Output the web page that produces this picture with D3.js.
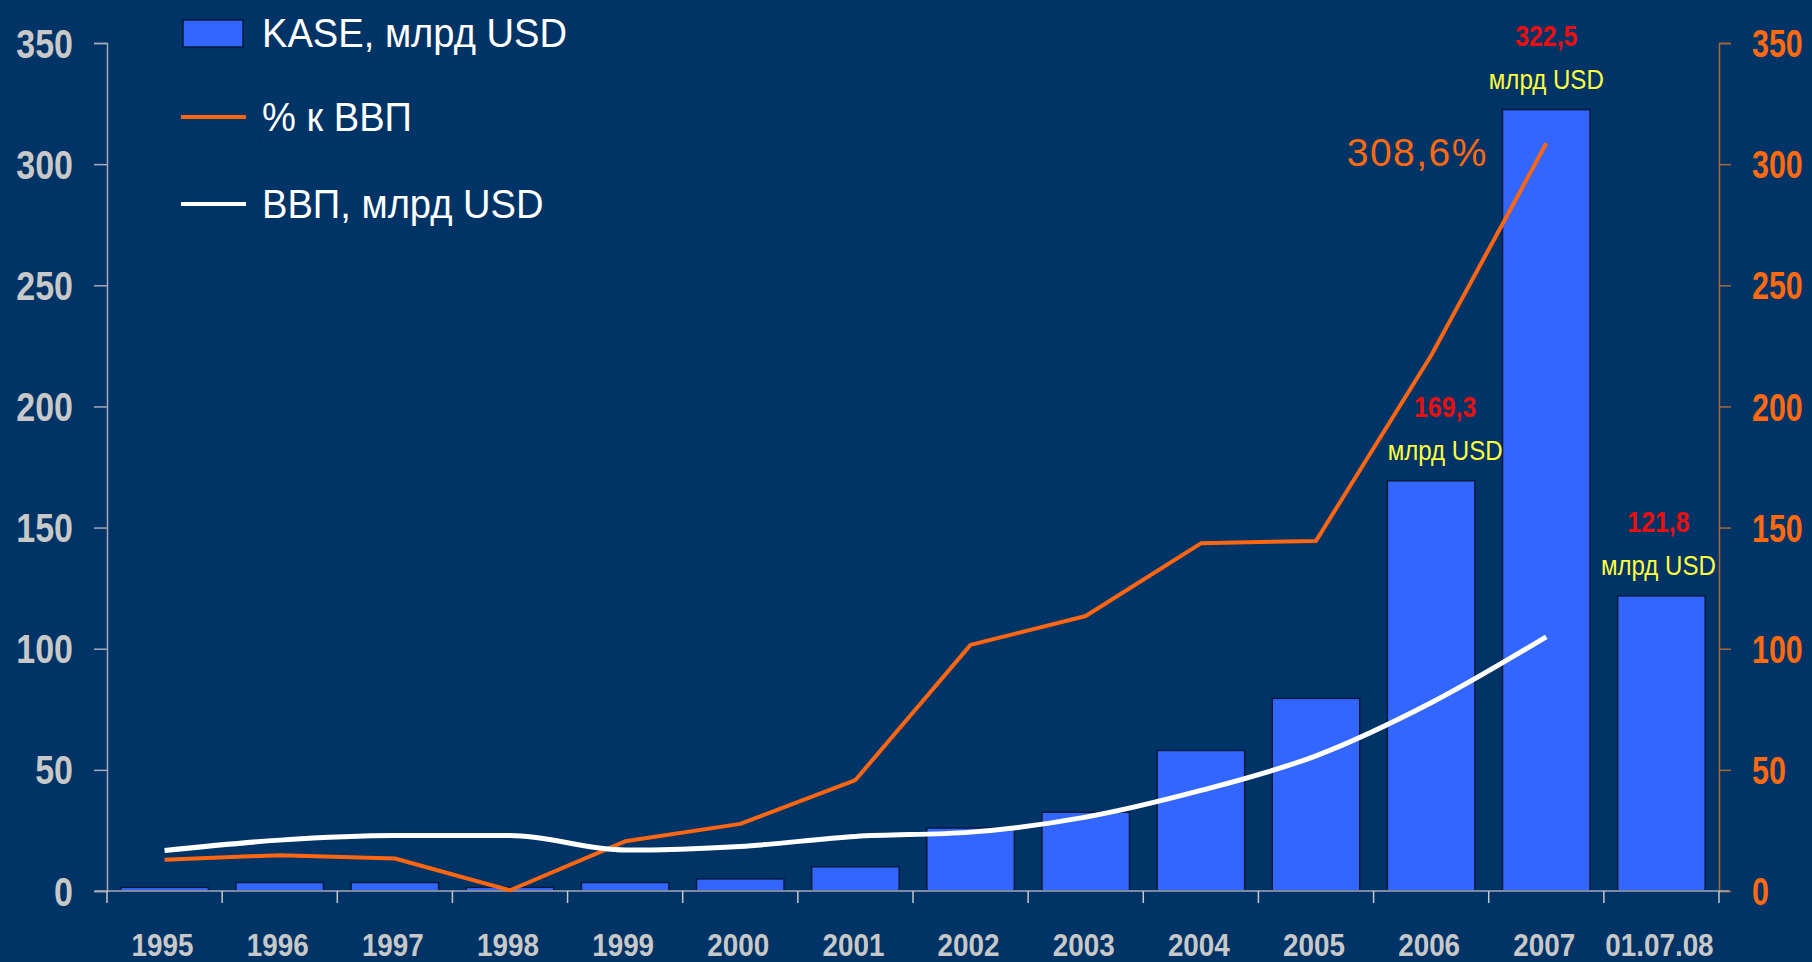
<!DOCTYPE html>
<html><head><meta charset="utf-8">
<script src="https://cdn.jsdelivr.net/npm/d3@7"></script>
<style>
html,body{margin:0;padding:0;background:#003366;}
svg{display:block;}
</style></head>
<body>
<svg id="chart" width="1812" height="962"></svg>
<script>
const categories = ["1995","1996","1997","1998","1999","2000","2001","2002","2003","2004","2005","2006","2007","01.07.08"];
const kase = [1.5,3.5,3.5,1.5,3.5,5,10,26,32.5,58,79.5,169.3,322.5,121.8];
const lineYears = ["1995","1996","1997","1998","1999","2000","2001","2002","2003","2004","2005","2006","2007"];
const pctGdp = [12.9,14.8,13.4,0.3,20.5,27.7,45.8,101.6,113.5,143.5,144.5,221,308.6];
const gdp = [16.7,21,22.9,22.9,16.9,18.4,22.5,24.3,30.5,41.5,55.8,77.7,104.9];
const yTicks = [0,50,100,150,200,250,300,350];
const annCats = ["2006","2007","01.07.08"];
const annValues = ["169,3","322,5","121,8"];
const annUnit = "млрд USD";
const pctLabel = "308,6%";
const legendLabels = ["KASE, млрд USD","% к ВВП","ВВП, млрд USD"];

(function(){
const font = "'Liberation Sans',Arial,sans-serif";
const svg = d3.select("#chart");
const W = 1812, H = 962;
const mLeft = 107, mRight = 1719, mTop = 43, mBottom = 891;

// horizontally condense text around its anchor point (narrow font look)
function condense(sel, f){
  sel.each(function(){
    const xv = parseFloat(this.getAttribute("x") || 0);
    this.setAttribute("x", 0);
    this.setAttribute("transform", `translate(${xv},0) scale(${f},1)`);
  });
}

svg.append("rect").attr("width",W).attr("height",H).attr("fill","#003366");

const x = d3.scaleBand().domain(categories).range([mLeft,mRight]).paddingInner(0.24).paddingOuter(0.12);
const xb = d3.scaleBand().domain(categories).range([mLeft,mRight]).padding(0);
const y = d3.scaleLinear().domain([0,350]).range([mBottom,mTop]);
const cx = d=>xb(d)+xb.bandwidth()/2;

// bars
svg.append("g").selectAll("rect").data(categories).join("rect")
  .attr("x",d=>x(d)).attr("width",x.bandwidth())
  .attr("y",(d,i)=>y(kase[i])).attr("height",(d,i)=>y(0)-y(kase[i]))
  .attr("fill","#3366ff").attr("stroke","#0a1a3a").attr("stroke-width",1.5);

// left axis
const gl = svg.append("g").attr("transform",`translate(${mLeft},0)`)
  .call(d3.axisLeft(y).tickValues(yTicks).tickSize(13).tickPadding(21).tickFormat(d3.format("d")));
gl.select(".domain").attr("stroke","#a8a8b8").attr("stroke-width",1.5);
gl.selectAll(".tick line").attr("stroke","#a8a8b8").attr("stroke-width",1.5);
gl.selectAll("text").attr("fill","#c8c8c8").attr("font-family",font).attr("font-size",40).attr("font-weight","bold").attr("dy","0.35em");
condense(gl.selectAll("text"),0.85);

// right axis
const gr = svg.append("g").attr("transform",`translate(${mRight},0)`)
  .call(d3.axisRight(y).tickValues(yTicks).tickSize(12).tickPadding(21).tickFormat(d3.format("d")));
gr.select(".domain").attr("stroke","#a86a3a").attr("stroke-width",1.5);
gr.selectAll(".tick line").attr("stroke","#a86a3a").attr("stroke-width",1.5);
gr.selectAll("text").attr("fill","#ff6a10").attr("font-family",font).attr("font-size",39).attr("font-weight","bold").attr("dy","0.35em");
condense(gr.selectAll("text"),0.78);

// bottom axis
const gb = svg.append("g").attr("transform",`translate(0,${mBottom})`);
gb.append("line").attr("x1",mLeft-12).attr("x2",mRight+10).attr("y1",0).attr("y2",0).attr("stroke","#a8a8b8").attr("stroke-width",1.5);
const bounds = categories.map(c=>xb(c)).concat([mRight]);
gb.selectAll("line.tk").data(bounds).join("line").attr("class","tk")
  .attr("x1",d=>d).attr("x2",d=>d).attr("y1",0).attr("y2",12).attr("stroke","#c8c8c8").attr("stroke-width",1.5);
const xl = gb.selectAll("text").data(categories).join("text")
  .attr("x",d=>cx(d)-2).attr("y",65)
  .attr("text-anchor","middle").attr("fill","#c8c8c8")
  .attr("font-family",font).attr("font-size",32).attr("font-weight","bold").text(d=>d);
condense(xl,0.87);

// lines
const pctLine = d3.line().x((d,i)=>cx(lineYears[i])).y(d=>y(d));
svg.append("path").datum(pctGdp).attr("d",pctLine).attr("fill","none").attr("stroke","#ff6611").attr("stroke-width",4).attr("stroke-linejoin","round");
const gdpLine = d3.line().x((d,i)=>cx(lineYears[i])).y(d=>y(d)).curve(d3.curveMonotoneX);
svg.append("path").datum(gdp).attr("d",gdpLine).attr("fill","none").attr("stroke","#ffffff").attr("stroke-width",5).attr("stroke-linejoin","round");

// annotations
const annDx = [14,0,-3];
annCats.forEach((c,i)=>{
  const v = kase[categories.indexOf(c)];
  const t1 = svg.append("text").attr("x",cx(c)+annDx[i]).attr("y",y(v)-21).attr("text-anchor","middle")
    .attr("fill","#ffff40").attr("font-family",font).attr("font-size",28).text(annUnit);
  condense(t1,0.86);
  const t2 = svg.append("text").attr("x",cx(c)+annDx[i]).attr("y",y(v)-64).attr("text-anchor","middle")
    .attr("fill","#e81010").attr("font-family",font).attr("font-size",30).attr("font-weight","bold").text(annValues[i]);
  condense(t2,0.83);
});
svg.append("text").attr("x",1488).attr("y",y(pctGdp[pctGdp.length-1])+23)
  .attr("text-anchor","end").attr("fill","#ff6a10").attr("font-family",font)
  .attr("font-size",39).attr("letter-spacing",1.5).text(pctLabel);

// legend
const lg = svg.append("g");
lg.append("rect").attr("x",183).attr("y",20).attr("width",60).attr("height",27).attr("fill","#3366ff").attr("stroke","#0a1a3a").attr("stroke-width",1.5);
lg.append("line").attr("x1",181).attr("x2",246).attr("y1",117).attr("y2",117).attr("stroke","#ff6611").attr("stroke-width",4);
lg.append("line").attr("x1",181).attr("x2",246).attr("y1",204).attr("y2",204).attr("stroke","#ffffff").attr("stroke-width",4);
[33,117,204].forEach((yy,i)=>{
  const t = lg.append("text").attr("x",262).attr("y",yy+14).attr("fill","#ffffff")
    .attr("font-family",font).attr("font-size",41).text(legendLabels[i]);
  condense(t,0.93);
});
})();
</script>
</body></html>
